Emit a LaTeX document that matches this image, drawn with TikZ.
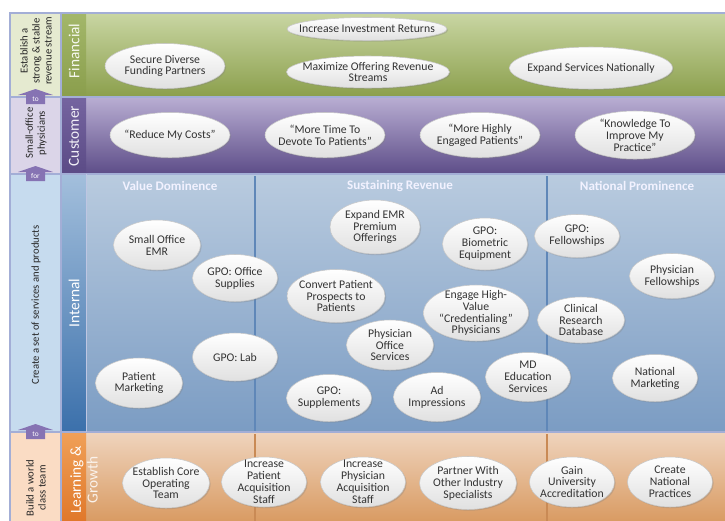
\documentclass[tikz,border=0pt]{standalone}
\usepackage{fontspec}
\setmainfont{Carlito}
\usetikzlibrary{shapes.geometric,shadows}
\definecolor{finTop}{HTML}{C9D6A3}\definecolor{finBot}{HTML}{8B9F4C}
\definecolor{finLabT}{HTML}{A3B76A}\definecolor{finLabB}{HTML}{8A9E4C}\definecolor{finBox}{HTML}{E5EAD0}
\definecolor{cusTop}{HTML}{B9AED3}\definecolor{cusBot}{HTML}{5D4D88}
\definecolor{cusLabT}{HTML}{7564A0}\definecolor{cusLabB}{HTML}{5B4B86}\definecolor{cusBox}{HTML}{DBD5E8}
\definecolor{intTop}{HTML}{B9CBDF}\definecolor{intBot}{HTML}{7B9CC3}
\definecolor{intLabT}{HTML}{A3BFDC}\definecolor{intLabB}{HTML}{3B70AB}\definecolor{intBox}{HTML}{C6DBEE}
\definecolor{lgTop}{HTML}{EFD4BD}\definecolor{lgBot}{HTML}{D99B63}
\definecolor{lgLabT}{HTML}{F0A058}\definecolor{lgLabB}{HTML}{E0782A}\definecolor{lgBox}{HTML}{FADCC4}
\definecolor{arrowc}{HTML}{8673B3}
\definecolor{framec}{HTML}{A3AED6}
\definecolor{divI}{HTML}{5F87B8}\definecolor{divL}{HTML}{C98A55}
\begin{document}
\begin{tikzpicture}[x=0.75pt,y=-0.75pt,
  oval/.style={ellipse, inner sep=0pt, top color=white, bottom color=black!12,
    draw=black!22, line width=0.4pt,
    drop shadow={opacity=0.3, shadow xshift=0.9pt, shadow yshift=-0.9pt}},
  ov/.style 2 args={oval, minimum width=#1*0.75pt, minimum height=#2*0.75pt},
  otext/.style={align=center, font=\fontsize{8.8}{8.9}\selectfont, text=black!80, inner sep=0pt},
  bandlab/.style={rotate=90, font=\fontsize{11.5}{12.5}\selectfont},
  lefttext/.style={rotate=90, align=center, font=\fontsize{8}{9}\selectfont, text=black!85},
  header/.style={font=\bfseries\fontsize{9.8}{10}\selectfont, text=white!95!blue},
  arrlab/.style={font=\fontsize{5.5}{6}\selectfont, text=white, inner sep=0pt},
]
\useasboundingbox (0,0) rectangle (725,521);
\fill[white] (0,0) rectangle (725,521);
% ---- band backgrounds
\shade[top color=finTop, bottom color=finBot] (86,13) rectangle (725,97);
\shade[top color=cusTop, bottom color=cusBot] (86,97) rectangle (725,174);
\shade[top color=intTop, bottom color=intBot] (86,174) rectangle (725,432);
\shade[top color=lgTop, bottom color=lgBot] (86,432) rectangle (725,521);
% label columns
\shade[top color=finLabT, bottom color=finLabB] (61,13) rectangle (86,97);
\shade[top color=cusLabT, bottom color=cusLabB] (61,97) rectangle (86,174);
\shade[top color=intLabT, bottom color=intLabB] (61,174) rectangle (86,432);
\shade[top color=lgLabT, bottom color=lgLabB] (61,432) rectangle (86,521);
% left boxes
\fill[finBox] (10,13) rectangle (61,97);
\fill[cusBox] (10,97) rectangle (61,174);
\fill[intBox] (10,174) rectangle (61,432);
\fill[lgBox] (10,432) rectangle (61,521);
% dividers
\draw[divI, line width=1.4pt] (255,176) -- (255,431);
\draw[divI, line width=1.4pt] (547,176) -- (547,431);
\draw[divL, line width=1.2pt] (255,434) -- (255,521);
\draw[divL, line width=1.2pt] (547,434) -- (547,521);
% frame lines
\draw[framec, line width=1.3pt] (725,13) -- (10,13) -- (10,521);
\draw[framec, line width=1.3pt] (10,97) -- (725,97);
\draw[framec, line width=1.3pt] (10,174) -- (725,174);
\draw[framec, line width=1.3pt] (10,432) -- (725,432);
\draw[framec, line width=0.9pt] (61,13) -- (61,521);
\draw[framec!70, line width=0.5pt] (86,174) -- (86,432);
% ---- arrows
\foreach \yb/\lab/\nm in {97/to/a1,174/for/a2,432/to/a3}{
  \fill[arrowc] (18,\yb-2) -- (35.5,\yb-8) -- (53,\yb-2) -- (45,\yb-2) -- (45,\yb+7) -- (26,\yb+7) -- (26,\yb-2) -- cycle;
  \node[arrlab] (\nm) at (35.5,\yb+2.5) {\lab};
}
% ---- left texts
\node[lefttext] (lf) at (36,51) {Establish a\\strong \& stable\\revenue stream};
\node[lefttext] (lc) at (36,133) {Small-office\\physicians};
\node[lefttext] (li) at (36,305) {Create a set of services and products};
\node[lefttext] (ll) at (36,488) {Build a world\\class team};
% ---- band labels
\node[bandlab, text=white!85!finTop] (bf) at (74,51) {Financial};
\node[bandlab, text=white!80!cusTop] (bc) at (74,136) {Customer};
\node[bandlab, text=white] (bi) at (74,303) {Internal};
\node[bandlab, align=center] (bl) at (84,480) {\textcolor{white}{Learning \&}\\\textcolor{white!70!lgTop}{Growth}};
% ---- headers
\node[header] (h1) at (170,186) {Value Dominence};
\node[header] (h2) at (400,186) {Sustaining Revenue};
\node[header] (h3) at (637,186) {National Prominence};
% ---- Financial ellipses
\node[ov={160}{23}, label={[otext]center:Increase Investment Returns}] (f1) at (367,29) {};
\node[ov={120}{45}, label={[otext]center:Secure Diverse\\Funding Partners}] (f2) at (165,66) {};
\node[ov={163}{32}, label={[otext]center:Maximize Offering Revenue\\Streams}] (f3) at (368,72) {};
\node[ov={163}{42}, label={[otext]center:Expand Services Nationally}] (f4) at (591,68) {};
% ---- Customer ellipses
\node[ov={120}{45}, label={[otext]center:``Reduce My Costs''}] (c1) at (170,135) {};
\node[ov={120}{45}, label={[otext]center:``More Time To\\Devote To Patients''}] (c2) at (325,135) {};
\node[ov={120}{45}, label={[otext]center:``More Highly\\Engaged Patients''}] (c3) at (480,135) {};
\node[ov={120}{48}, label={[otext]center:``Knowledge To\\Improve My\\Practice''}] (c4) at (635,135) {};
% ---- Internal ellipses
\node[ov={87}{50}, label={[otext]center:Small Office\\EMR}] (i1) at (157,245) {};
\node[ov={85}{47}, label={[otext]center:GPO: Office\\Supplies}] (i2) at (235,278) {};
\node[ov={90}{54}, label={[otext]center:Expand EMR\\Premium\\Offerings}] (i3) at (375,227) {};
\node[ov={98}{53}, label={[otext]center:Convert Patient\\Prospects to\\Patients}] (i4) at (336,296) {};
\node[ov={85}{52}, label={[otext]center:GPO:\\Biometric\\Equipment}] (i5) at (485,244) {};
\node[ov={85}{43}, label={[otext]center:GPO:\\Fellowships}] (i6) at (577,236) {};
\node[ov={85}{45}, label={[otext]center:Physician\\Fellowships}] (i7) at (672,276) {};
\node[ov={105}{56}, label={[otext]center:Engage High-\\Value\\``Credentialing''\\Physicians}] (i8) at (476,313) {};
\node[ov={87}{46}, label={[otext]center:Clinical\\Research\\Database}] (i9) at (581,320) {};
\node[ov={87}{50}, label={[otext]center:Physician\\Office\\Services}] (i10) at (390,345) {};
\node[ov={87}{50}, label={[otext]center:Patient\\Marketing}] (i11) at (139,383) {};
\node[ov={85}{48}, label={[otext]center:GPO: Lab}] (i12) at (235,357) {};
\node[ov={85}{47}, label={[otext]center:GPO:\\Supplements}] (i13) at (329,398) {};
\node[ov={87}{49}, label={[otext]center:Ad\\Impressions}] (i14) at (437,397) {};
\node[ov={85}{49}, label={[otext]center:MD\\Education\\Services}] (i15) at (528,377) {};
\node[ov={85}{47}, label={[otext]center:National\\Marketing}] (i16) at (655,378) {};
% ---- Learning ellipses
\node[ov={87}{50}, label={[otext]center:Establish Core\\Operating\\Team}] (l1) at (166,483) {};
\node[ov={85}{50}, label={[otext]center:Increase\\Patient\\Acquisition\\Staff}] (l2) at (264,482) {};
\node[ov={85}{50}, label={[otext]center:Increase\\Physician\\Acquisition\\Staff}] (l3) at (363,482) {};
\node[ov={97}{53}, label={[otext]center:Partner With\\Other Industry\\Specialists}] (l4) at (468,483) {};
\node[ov={85}{50}, label={[otext]center:Gain\\University\\Accreditation}] (l5) at (572,482) {};
\node[ov={85}{50}, label={[otext]center:Create\\National\\Practices}] (l6) at (670,482) {};
\end{tikzpicture}
\end{document}
